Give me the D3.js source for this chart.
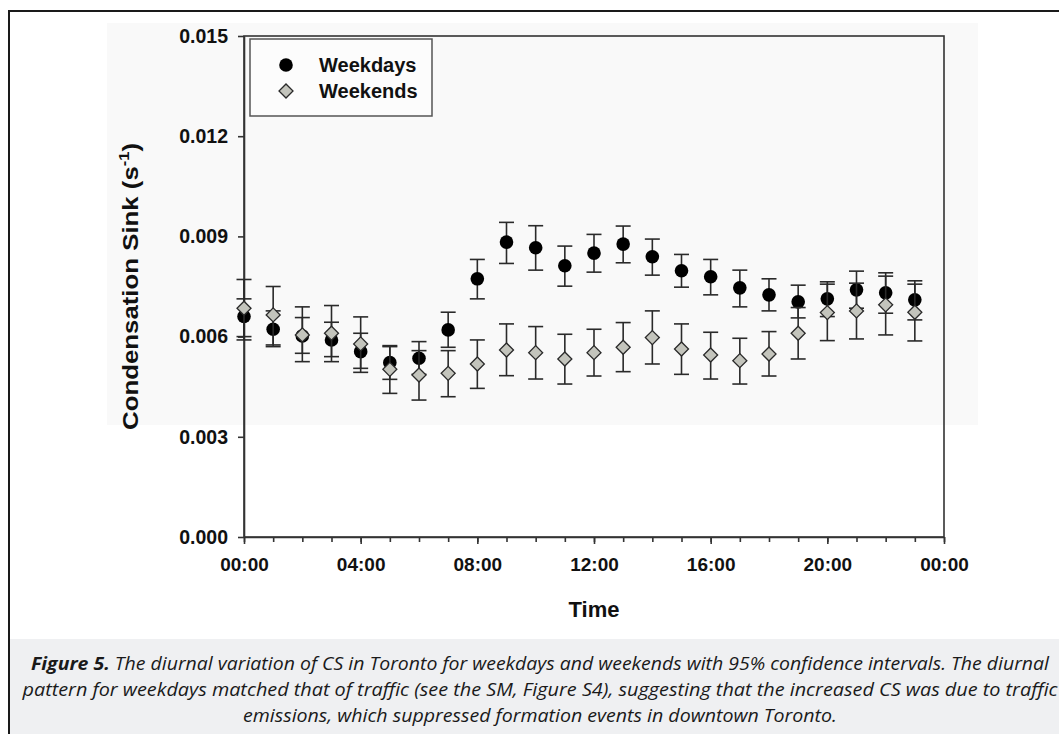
<!DOCTYPE html>
<html>
<head>
<meta charset="utf-8">
<script src="https://cdn.jsdelivr.net/npm/d3@7"></script>
<style>
  body { margin: 0; background: #fff; }
  svg { display: block; }
  .tick text { font-family: "Liberation Sans", Arial, sans-serif; font-weight: bold; }
</style>
</head>
<body>
<div id="chart"></div>
<script>
const svgWidth = 1059;
const svgHeight = 734;

// hour of day for each point
const hours = [0, 1, 2, 3, 4, 5, 6, 7, 8, 9, 10, 11, 12, 13, 14, 15, 16, 17, 18, 19, 20, 21, 22, 23];

// weekdays: mean and 95% CI
const weekdayMean = [0.00660, 0.00622, 0.00602, 0.00590, 0.00555, 0.00522, 0.00535, 0.00620, 0.00773, 0.00883, 0.00866, 0.00812,
                     0.00850, 0.00877, 0.00839, 0.00797, 0.00779, 0.00746, 0.00725, 0.00704, 0.00713, 0.00740, 0.00731, 0.00710];
const weekdayLow = [0.00600, 0.00570, 0.00550, 0.00540, 0.00505, 0.00472, 0.00487, 0.00568, 0.00713, 0.00819, 0.00799, 0.00751,
                    0.00793, 0.00821, 0.00784, 0.00748, 0.00725, 0.00689, 0.00677, 0.00656, 0.00660, 0.00685, 0.00670, 0.00650];
const weekdayHigh = [0.00713, 0.00677, 0.00657, 0.00643, 0.00610, 0.00573, 0.00585, 0.00673, 0.00831, 0.00942, 0.00932, 0.00871,
                     0.00906, 0.00931, 0.00892, 0.00846, 0.00831, 0.00799, 0.00773, 0.00754, 0.00764, 0.00796, 0.00791, 0.00767];

// weekends: mean and 95% CI
const weekendMean = [0.00685, 0.00665, 0.00605, 0.00610, 0.00578, 0.00502, 0.00485, 0.00490, 0.00518, 0.00560, 0.00552, 0.00533,
                     0.00552, 0.00568, 0.00597, 0.00563, 0.00545, 0.00528, 0.00548, 0.00610, 0.00672, 0.00677, 0.00695, 0.00673];
const weekendLow = [0.00590, 0.00575, 0.00525, 0.00525, 0.00493, 0.00430, 0.00410, 0.00420, 0.00445, 0.00483, 0.00473, 0.00458,
                    0.00482, 0.00495, 0.00518, 0.00487, 0.00473, 0.00458, 0.00482, 0.00533, 0.00588, 0.00593, 0.00605, 0.00587];
const weekendHigh = [0.00771, 0.00750, 0.00689, 0.00693, 0.00659, 0.00570, 0.00558, 0.00558, 0.00590, 0.00638, 0.00630, 0.00607,
                     0.00622, 0.00642, 0.00677, 0.00638, 0.00613, 0.00595, 0.00615, 0.00687, 0.00757, 0.00760, 0.00781, 0.00757];

const yTicks = [0, 0.003, 0.006, 0.009, 0.012, 0.015];
const xTicks = [0, 4, 8, 12, 16, 20, 24];
const xTickLabels = ["00:00", "04:00", "08:00", "12:00", "16:00", "20:00", "00:00"];
const seriesNames = ["Weekdays", "Weekends"];

const captionLines = [
  "The diurnal variation of CS in Toronto for weekdays and weekends with 95% confidence intervals. The diurnal",
  "pattern for weekdays matched that of traffic (see the SM, Figure S4), suggesting that the increased CS was due to traffic",
  "emissions, which suppressed formation events in downtown Toronto."
];

const svg = d3.select("#chart")
    .append("svg")
    .attr("width", svgWidth)
    .attr("height", svgHeight);

const font = '"Liberation Sans", Arial, sans-serif';

// faint scan background behind the plot
svg.append("rect")
    .attr("x", 107).attr("y", 23)
    .attr("width", 871).attr("height", 402)
    .attr("fill", "#f9f9f9");

// caption band
svg.append("rect")
    .attr("x", 10).attr("y", 639)
    .attr("width", svgWidth).attr("height", 100)
    .attr("fill", "#eff0f2");

// outer figure border (runs off the right and bottom edge)
svg.append("rect")
    .attr("x", 9).attr("y", 11)
    .attr("width", 1200).attr("height", 900)
    .attr("fill", "none")
    .attr("stroke", "#1a1a1a")
    .attr("stroke-width", 2);

const x = d3.scaleLinear().domain([0, 24]).range([244, 944]);
const y = d3.scaleLinear().domain([0, 0.015]).range([537, 36]);

// plot frame
svg.append("rect")
    .attr("x", x(0)).attr("y", y(0.015))
    .attr("width", x(24) - x(0)).attr("height", y(0) - y(0.015))
    .attr("fill", "none")
    .attr("stroke", "#333")
    .attr("stroke-width", 1.6);

// axes
const xMinor = svg.append("g")
    .attr("transform", "translate(0," + y(0) + ")")
    .call(d3.axisBottom(x).tickValues(d3.range(0, 25)).tickSize(5).tickSizeOuter(0).tickFormat(""));
xMinor.select(".domain").remove();

const xAxis = svg.append("g")
    .attr("transform", "translate(0," + y(0) + ")")
    .call(d3.axisBottom(x).tickValues(xTicks).tickSize(7).tickSizeOuter(0).tickPadding(14)
        .tickFormat((d, i) => xTickLabels[i]));
xAxis.selectAll("text").style("font-size", "19px").attr("fill", "#111");

const yAxis = svg.append("g")
    .attr("transform", "translate(" + x(0) + ",0)")
    .call(d3.axisLeft(y).tickValues(yTicks).tickSize(6).tickSizeOuter(0).tickPadding(10)
        .tickFormat(d3.format(".3f")));
yAxis.selectAll("text").style("font-size", "19.5px").attr("fill", "#111");

svg.selectAll(".domain, .tick line")
    .attr("stroke", "#333")
    .attr("stroke-width", 1.6);

// axis titles
svg.append("text")
    .attr("x", (x(0) + x(24)) / 2)
    .attr("y", 617)
    .attr("text-anchor", "middle")
    .style("font-family", font).style("font-weight", "bold").style("font-size", "22px")
    .attr("fill", "#111")
    .text("Time");

const yTitle = svg.append("text")
    .attr("transform", "translate(138," + (y(0) + y(0.015)) / 2 + ") rotate(-90)")
    .attr("text-anchor", "middle")
    .attr("textLength", 287)
    .attr("lengthAdjust", "spacingAndGlyphs")
    .style("font-family", font).style("font-weight", "bold").style("font-size", "22px")
    .attr("fill", "#111");
yTitle.append("tspan").text("Condensation Sink (s");
yTitle.append("tspan").attr("dy", -9).style("font-size", "14px").text("-1");
yTitle.append("tspan").attr("dy", 9).text(")");

// data rows
const weekdays = hours.map((h, i) => ({ h: h, v: weekdayMean[i], lo: weekdayLow[i], hi: weekdayHigh[i] }));
const weekends = hours.map((h, i) => ({ h: h, v: weekendMean[i], lo: weekendLow[i], hi: weekendHigh[i] }));

const capHalf = 7.5;
const barColor = "#2a2a2a";

function drawErrorBars(rows) {
    const g = svg.append("g")
        .attr("stroke", barColor)
        .attr("stroke-width", 1.6);
    g.selectAll(".stem").data(rows).enter().append("line")
        .attr("x1", d => x(d.h)).attr("x2", d => x(d.h))
        .attr("y1", d => y(d.lo)).attr("y2", d => y(d.hi));
    g.selectAll(".capTop").data(rows).enter().append("line")
        .attr("x1", d => x(d.h) - capHalf).attr("x2", d => x(d.h) + capHalf)
        .attr("y1", d => y(d.hi)).attr("y2", d => y(d.hi));
    g.selectAll(".capBottom").data(rows).enter().append("line")
        .attr("x1", d => x(d.h) - capHalf).attr("x2", d => x(d.h) + capHalf)
        .attr("y1", d => y(d.lo)).attr("y2", d => y(d.lo));
}

const diamond = d3.symbol().type(d3.symbolSquare).size(98)();

drawErrorBars(weekdays);
svg.append("g").selectAll("circle")
    .data(weekdays)
    .enter().append("circle")
    .attr("cx", d => x(d.h))
    .attr("cy", d => y(d.v))
    .attr("r", 6.8)
    .attr("fill", "#000");

drawErrorBars(weekends);
svg.append("g").selectAll("path")
    .data(weekends)
    .enter().append("path")
    .attr("d", diamond)
    .attr("transform", d => "translate(" + x(d.h) + "," + y(d.v) + ") rotate(45)")
    .attr("fill", "#c3c4bc")
    .attr("stroke", "#2a2a2a")
    .attr("stroke-width", 1.3);

// legend
const legend = svg.append("g");
legend.append("rect")
    .attr("x", 250).attr("y", 39)
    .attr("width", 182).attr("height", 77)
    .attr("fill", "#fcfcfc")
    .attr("stroke", "#555")
    .attr("stroke-width", 1.5);
legend.append("circle")
    .attr("cx", 286).attr("cy", 65).attr("r", 6.8)
    .attr("fill", "#000");
legend.append("path")
    .attr("d", diamond)
    .attr("transform", "translate(286,91) rotate(45)")
    .attr("fill", "#c3c4bc")
    .attr("stroke", "#2a2a2a")
    .attr("stroke-width", 1.3);
legend.selectAll("text")
    .data(seriesNames)
    .enter().append("text")
    .attr("x", 319)
    .attr("y", (d, i) => 72 + i * 26)
    .style("font-family", font).style("font-weight", "bold").style("font-size", "20px")
    .attr("fill", "#111")
    .text(d => d);

// caption
const captionFont = '"Liberation Sans Narrow", "Open Sans", sans-serif';
const captionY = [670, 696, 722];
const captionWidth = [1018, 1035, 594];
captionLines.forEach(function (line, i) {
    const t = svg.append("text")
        .attr("x", 540)
        .attr("y", captionY[i])
        .attr("text-anchor", "middle")
        .attr("textLength", captionWidth[i])
        .attr("lengthAdjust", "spacingAndGlyphs")
        .style("font-family", captionFont).style("font-style", "italic").style("font-size", "18px")
        .attr("fill", "#1a1a1a");
    if (i === 0) {
        t.append("tspan").style("font-weight", "bold").text("Figure 5. ");
    }
    t.append("tspan").text(line);
});
</script>
</body>
</html>
